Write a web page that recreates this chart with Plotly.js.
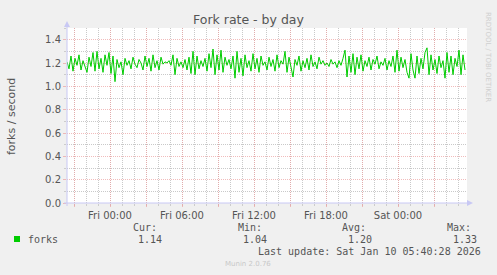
<!DOCTYPE html>
<html><head><meta charset="utf-8">
<script src="https://cdn.plot.ly/plotly-3.0.1.min.js"></script>
<style>html,body{margin:0;padding:0;background:#F0F0F0;}#chart{width:497px;height:275px;}</style>
</head><body><div id="chart"></div>
<script>
const startTime = "2026-01-08T20:25:00";
const stepMinutes = 10;
const forks = [
1.21,1.15,1.26,1.13,1.24,1.18,1.27,1.14,1.22,1.16,
1.12,1.25,1.17,1.29,1.13,1.30,1.15,1.24,1.12,1.27,
1.18,1.29,1.11,1.26,1.04,1.23,1.16,1.21,1.10,1.24,
1.18,1.22,1.15,1.25,1.19,1.16,1.23,1.20,1.14,1.26,
1.17,1.24,1.13,1.27,1.16,1.22,1.14,1.25,1.19,1.21,
1.20,1.22,1.18,1.27,1.10,1.24,1.17,1.21,1.16,1.23,
1.14,1.25,1.11,1.30,1.10,1.26,1.15,1.22,1.17,1.24,
1.13,1.28,1.16,1.32,1.10,1.27,1.14,1.31,1.12,1.25,
1.18,1.23,1.15,1.26,1.07,1.30,1.12,1.24,1.09,1.27,
1.16,1.22,1.13,1.28,1.15,1.24,1.12,1.26,1.18,1.21,
1.14,1.25,1.17,1.23,1.13,1.27,1.16,1.22,1.19,1.30,
1.12,1.25,1.15,1.08,1.23,1.18,1.26,1.13,1.22,1.16,
1.24,1.14,1.27,1.17,1.21,1.15,1.25,1.19,1.22,1.18,
1.20,1.17,1.23,1.19,1.21,1.16,1.22,1.18,1.24,1.31,
1.08,1.26,1.12,1.28,1.10,1.25,1.15,1.27,1.13,1.22,
1.17,1.25,1.14,1.23,1.19,1.26,1.15,1.21,1.18,1.24,
1.14,1.22,1.17,1.26,1.12,1.31,1.13,1.25,1.16,1.23,
1.12,1.07,1.28,1.14,1.07,1.26,1.11,1.24,1.15,1.29,
1.33,1.10,1.27,1.14,1.23,1.11,1.26,1.16,1.22,1.07,
1.29,1.12,1.26,1.10,1.24,1.17,1.31,1.10,1.27,1.14
];
const tickDates = ["2026-01-08 21:00","2026-01-09 00:00","2026-01-09 03:00","2026-01-09 06:00","2026-01-09 09:00","2026-01-09 12:00","2026-01-09 15:00","2026-01-09 18:00","2026-01-09 21:00","2026-01-10 00:00","2026-01-10 03:00"];
const tickLabels = ["","Fri 00:00","","Fri 06:00","","Fri 12:00","","Fri 18:00","","Sat 00:00",""];
const legendHeaders = ["Cur:","Min:","Avg:","Max:"];
const legendValues = ["1.14","1.04","1.20","1.33"];
const seriesName = "forks";
const lastUpdate = "Last update: Sat Jan 10 05:40:28 2026";

function fmt(d){const p=n=>String(n).padStart(2,'0');return d.getFullYear()+"-"+p(d.getMonth()+1)+"-"+p(d.getDate())+" "+p(d.getHours())+":"+p(d.getMinutes());}
const t0 = new Date(startTime);
const times = forks.map((v,i)=>fmt(new Date(t0.getTime()+i*stepMinutes*60000)));

const L=67,R=467,T=28,B=203;
const px = x => (x-L)/(R-L);
const py = y => (B-y)/(B-T);
const mono = {family:"DejaVu Sans Mono", size:10, color:"#555"};
const axisCol = "#c8c8f4";
const majorGrid = "rgba(235,160,160,0.7)";
const minorGrid = "rgba(195,195,195,0.9)";

const annotations = [];
const hx=[145,250,354,459], vx=[150,255,360,465];
legendHeaders.forEach((h,i)=>annotations.push({text:h,x:px(hx[i]),y:py(227),xref:"paper",yref:"paper",showarrow:false,font:mono,xanchor:"center",yanchor:"middle"}));
legendValues.forEach((v,i)=>annotations.push({text:v,x:px(vx[i]),y:py(239),xref:"paper",yref:"paper",showarrow:false,font:mono,xanchor:"center",yanchor:"middle"}));
annotations.push({text:seriesName,x:px(26),y:py(239),xref:"paper",yref:"paper",showarrow:false,font:mono,xanchor:"left",yanchor:"middle"});
annotations.push({text:lastUpdate,x:px(483),y:py(251),xref:"paper",yref:"paper",showarrow:false,font:mono,xanchor:"right",yanchor:"middle"});
annotations.push({text:"Munin 2.0.76",x:px(248),y:py(264),xref:"paper",yref:"paper",showarrow:false,font:{family:"DejaVu Sans",size:7,color:"#c8c8c8"},xanchor:"center",yanchor:"middle"});
annotations.push({text:"RRDTOOL / TOBI OETIKER",x:px(488),y:py(57),xref:"paper",yref:"paper",showarrow:false,textangle:90,font:{family:"DejaVu Sans",size:7,color:"#cfcfcf"},xanchor:"center",yanchor:"middle"});
annotations.push({text:"forks / second",x:px(11),y:py(116),xref:"paper",yref:"paper",showarrow:false,textangle:-90,font:{family:"DejaVu Sans",size:11,color:"#555"},xanchor:"center",yanchor:"middle"});
annotations.push({text:"Fork rate - by day",x:px(248),y:py(19),xref:"paper",yref:"paper",showarrow:false,font:{family:"DejaVu Sans",size:12.5,color:"#555"},xanchor:"center",yanchor:"middle"});

const shapes = [
 {type:"rect",xref:"paper",yref:"paper",x0:px(14),x1:px(20),y0:py(236),y1:py(242),fillcolor:"#00CC00",line:{width:0}},
 {type:"line",xref:"paper",yref:"paper",x0:px(67),x1:px(67),y0:py(206),y1:py(25),line:{color:axisCol,width:1}},
 {type:"line",xref:"paper",yref:"paper",x0:px(64),x1:px(469),y0:py(203),y1:py(203),line:{color:axisCol,width:1}},
 {type:"path",xref:"paper",yref:"paper",path:`M ${px(64)} ${py(27)} L ${px(70)} ${py(27)} L ${px(67)} ${py(21)} Z`,fillcolor:axisCol,line:{width:0}},
 {type:"path",xref:"paper",yref:"paper",path:`M ${px(467)} ${py(200)} L ${px(467)} ${py(206)} L ${px(473)} ${py(203)} Z`,fillcolor:axisCol,line:{width:0}}
];

const data=[{x:times,y:forks,type:"scatter",mode:"lines",line:{color:"#00CC00",width:1},hoverinfo:"skip"}];
const layout={
 width:497,height:275,margin:{l:L,r:497-R,t:T,b:275-B},
 paper_bgcolor:"#F0F0F0",plot_bgcolor:"#FFFFFF",showlegend:false,
 xaxis:{type:"date",range:["2026-01-08 20:25","2026-01-10 05:45"],tickmode:"array",tickvals:tickDates,ticktext:tickLabels,
   showgrid:true,gridcolor:majorGrid,griddash:"1px,1px",gridwidth:1,
   ticks:"outside",ticklen:3,tickcolor:majorGrid,tickfont:{family:"DejaVu Sans",size:10,color:"#555"},
   minor:{dtick:3600000,showgrid:true,gridcolor:minorGrid,griddash:"1px,1px",ticks:"outside",ticklen:2,tickcolor:"#ccc"},
   showline:false,zeroline:false,fixedrange:true},
 yaxis:{range:[0,1.5],tickmode:"linear",tick0:0,dtick:0.2,tickformat:".1f",
   showgrid:true,gridcolor:majorGrid,griddash:"1px,1px",gridwidth:1,
   ticks:"outside",ticklen:3,tickcolor:majorGrid,tickfont:{family:"DejaVu Sans",size:10,color:"#555"},
   minor:{dtick:0.1,showgrid:true,gridcolor:minorGrid,griddash:"1px,1px",ticks:"outside",ticklen:2,tickcolor:"#ccc"},
   showline:false,zeroline:false,fixedrange:true},
 annotations:annotations,shapes:shapes
};
Plotly.newPlot("chart",data,layout,{staticPlot:true,displayModeBar:false});
</script></body></html>
